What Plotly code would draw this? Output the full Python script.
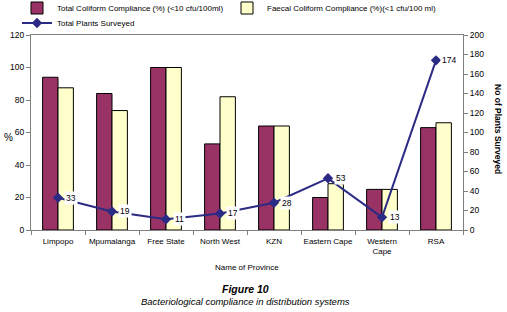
import plotly.graph_objects as go

provinces = ["Limpopo", "Mpumalanga", "Free State", "North West", "KZN",
             "Eastern Cape", "Western<br>Cape", "RSA"]
total_coliform = [94, 84, 100, 53, 64, 20, 25, 63]
faecal_coliform = [87.5, 73.5, 100, 82, 64, 28.5, 25, 66]
plants_surveyed = [33, 19, 11, 17, 28, 53, 13, 174]

FONT = "Liberation Sans, Arial, sans-serif"
AX = "#808080"

# plot area in window px
PL, PR, PT, PB = 31, 463, 35, 230
W, H = 507, 312


def px(x):
    return (x - PL) / (PR - PL)


def py(y):
    return (PB - y) / (PB - PT)


fig = go.Figure()
fig.add_trace(go.Bar(
    x=provinces, y=total_coliform,
    name="Total Coliform Compliance (%) (<10 cfu/100ml)",
    marker=dict(color="#993366", line=dict(color="#000000", width=1)),
    legend="legend",
))
fig.add_trace(go.Bar(
    x=provinces, y=faecal_coliform,
    name="Faecal Coliform Compliance (%)(<1 cfu/100 ml)",
    marker=dict(color="#FFFFCC", line=dict(color="#000000", width=1)),
    legend="legend",
))
fig.add_trace(go.Scatter(
    x=provinces, y=plants_surveyed, yaxis="y2",
    name="Total Plants Surveyed", mode="lines+markers",
    line=dict(color="#2B2B85", width=2),
    marker=dict(symbol="diamond", size=8, color="#2B2B85"),
    legend="legend2",
))

for p, v in zip(provinces, plants_surveyed):
    fig.add_annotation(x=p, y=v, xref="x", yref="y2", text=str(v),
                       showarrow=False, xshift=13, bgcolor="white",
                       font=dict(family=FONT, size=8.5, color="black"),
                       borderpad=1)


def label(text, x, y, size, angle=0):
    fig.add_annotation(text=text, textangle=angle, x=px(x), y=py(y),
                       xref="paper", yref="paper", showarrow=False,
                       xanchor="center", yanchor="middle",
                       font=dict(family=FONT, size=size, color="black"))


label("<b>No of Plants Surveyed</b>", 498, 129, 8.5, angle=90)
label("%", 8, 137, 10)
label("Name of Province", 247, 267, 8)
label("<b><i>Figure 10</i></b>", 245, 289, 10.5)
label("<i>Bacteriological compliance in distribution systems</i>", 245, 301, 9.5)

legend_common = dict(orientation="h", xref="container", yref="container",
                     xanchor="left", yanchor="middle", itemwidth=30,
                     font=dict(family=FONT, size=8), bgcolor="rgba(0,0,0,0)")

fig.update_layout(
    width=W, height=H,
    margin=dict(l=PL, r=W - PR, t=PT, b=H - PB, autoexpand=False),
    paper_bgcolor="white", plot_bgcolor="white",
    barmode="group", bargap=0.43, bargroupgap=0,
    font=dict(family=FONT, size=8, color="black"),
    showlegend=True,
    legend=dict(x=17 / W, y=1 - 8 / H, entrywidth=165, entrywidthmode="pixels",
                **legend_common),
    legend2=dict(x=17 / W, y=1 - 23 / H, **legend_common),
    xaxis=dict(showline=True, linecolor=AX, mirror=True, ticks="outside",
               tickson="boundaries", tickcolor=AX, ticklen=4, tickangle=0,
               ticklabelstandoff=3, tickfont=dict(size=8)),
    yaxis=dict(range=[0, 120], dtick=20, showline=True, linecolor=AX,
               mirror=True, ticks="outside", tickcolor=AX, ticklen=4,
               showgrid=False, zeroline=False, tickfont=dict(size=8.5)),
    yaxis2=dict(range=[0, 200], dtick=20, overlaying="y", side="right",
                showline=True, linecolor=AX, ticks="outside", tickcolor=AX,
                ticklen=4, showgrid=False, zeroline=False,
                tickfont=dict(size=8.5)),
)

fig.write_html("out.html", config={"displayModeBar": False},
               post_script="document.body.style.margin='0';")
